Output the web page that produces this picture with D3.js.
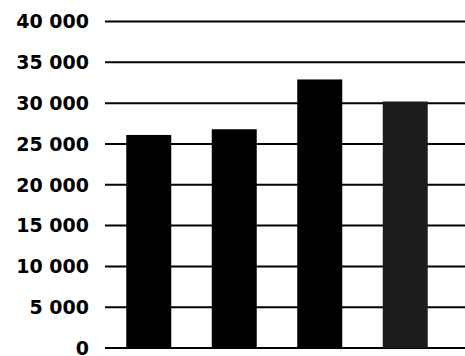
<!DOCTYPE html>
<html>
<head>
<meta charset="utf-8">
<script src="https://cdn.jsdelivr.net/npm/d3@7"></script>
<style>
  body { margin: 0; background: #fff; }
  text { font-family: "DejaVu Sans", sans-serif; font-weight: bold; }
</style>
</head>
<body>
<div id="chart"></div>
<script>
// data (no category labels are shown)
var categories = ["1", "2", "3", "4"];
var values = [26100, 26800, 32900, 30200];
var barColors = ["#000", "#000", "#000", "#1c1c1c"];
var tickValues = [0, 5000, 10000, 15000, 20000, 25000, 30000, 35000, 40000];

function init() {
    var w = 465;
    var h = 356;

    var svg = d3.select("#chart")
                .append("svg")
                .attr("width", w)
                .attr("height", h);

    var y = d3.scaleLinear()
              .domain([0, 40000])
              .range([348, 21.5]);

    var x = d3.scaleBand()
              .domain(categories)
              .range([106, 448])
              .paddingInner(0.474)
              .paddingOuter(0.237);

    // number format with a space as thousands separator
    var fmt = function(d) {
        return d3.format(",")(d).replace(/,/g, " ");
    };

    // gridlines
    svg.selectAll("line.grid")
        .data(tickValues)
        .enter()
        .append("line")
        .attr("class", "grid")
        .attr("x1", 105)
        .attr("x2", w)
        .attr("y1", function(d) { return y(d); })
        .attr("y2", function(d) { return y(d); })
        .style("stroke", "#000")
        .style("stroke-width", 2);

    // y labels
    svg.selectAll("text.ylab")
        .data(tickValues)
        .enter()
        .append("text")
        .attr("class", "ylab")
        .attr("x", 89)
        .attr("y", function(d) { return y(d); })
        .attr("dy", "0.36em")
        .attr("text-anchor", "end")
        .style("font-size", "19px")
        .style("fill", "#000")
        .text(fmt);

    // bars
    svg.selectAll("rect")
        .data(values)
        .enter()
        .append("rect")
        .attr("x", function(d, i) { return x(categories[i]); })
        .attr("y", function(d) { return y(d); })
        .attr("width", x.bandwidth())
        .attr("height", function(d) { return y(0) - y(d); })
        .style("fill", function(d, i) { return barColors[i]; });
}

window.onload = init;
</script>
</body>
</html>
